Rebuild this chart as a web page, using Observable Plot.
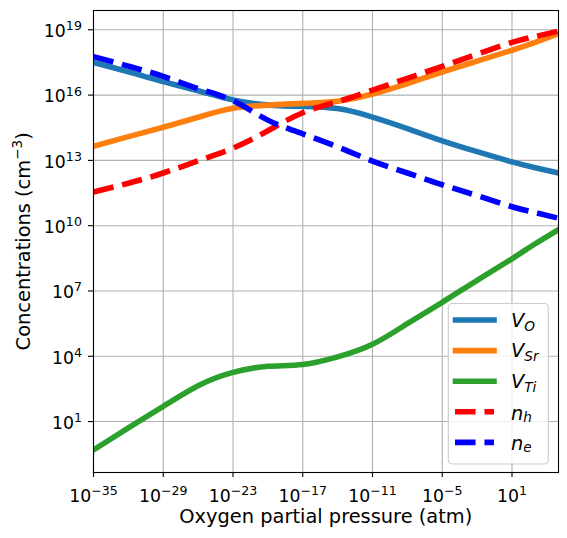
<!DOCTYPE html>
<html>
<head>
<meta charset="utf-8">
<script src="https://cdn.jsdelivr.net/npm/d3@7"></script>
<script src="https://cdn.jsdelivr.net/npm/@observablehq/plot@0.6"></script>
<style>
  html, body { margin: 0; padding: 0; background: #fff; }
  #chart { width: 567px; height: 538px; }
</style>
</head>
<body>
<div id="chart"></div>
<script>
// Oxygen partial pressure (log10 atm) sample positions
const logP   = [-35, -32, -29, -26, -23, -20, -17, -14, -11, -8, -5, -2, 1, 3, 5];
// log10 concentrations (cm^-3)
const logVO  = [17.50, 17.07, 16.62, 16.20, 15.78, 15.55, 15.48, 15.38, 14.99, 14.46, 13.90, 13.40, 12.93, 12.66, 12.42];
const logVSr = [13.65, 14.09, 14.52, 14.98, 15.39, 15.54, 15.62, 15.72, 16.05, 16.53, 17.06, 17.56, 18.06, 18.42, 18.82];
const logVTi = [-0.30, 0.71, 1.70, 2.65, 3.26, 3.54, 3.62, 3.97, 4.55, 5.50, 6.48, 7.49, 8.48, 9.17, 9.82];
const logNh  = [11.55, 11.95, 12.42, 12.98, 13.56, 14.36, 15.19, 15.70, 16.23, 16.77, 17.32, 17.88, 18.42, 18.69, 18.94];
const logNe  = [17.77, 17.33, 16.86, 16.30, 15.74, 14.85, 14.22, 13.62, 12.97, 12.42, 11.88, 11.38, 10.87, 10.60, 10.34];

const seriesKeys   = ["VO", "VSr", "VTi", "nh", "ne"];
const seriesValues = [logVO, logVSr, logVTi, logNh, logNe];
const seriesColors = ["#1f77b4", "#ff7f0e", "#2ca02c", "#ff0000", "#0000ff"];
const seriesDashed = [false, false, false, true, true];
const legendMain   = ["V", "V", "V", "n", "n"];
const legendSub    = ["O", "Sr", "Ti", "h", "e"];

const xTickExp = [-35, -29, -23, -17, -11, -5, 1];
const yTickExp = [1, 4, 7, 10, 13, 16, 19];
const xTicks = xTickExp.map(e => Math.pow(10, e));
const yTicks = yTickExp.map(e => Math.pow(10, e));

const LW = 5.56;
const DASH = "20.56,8.9";

const rows = [];
seriesKeys.forEach((k, i) => {
  logP.forEach((lp, j) => rows.push({series: k, p: Math.pow(10, lp), v: Math.pow(10, seriesValues[i][j])}));
});

const fmt = d => "10^" + String(Math.round(Math.log10(d))).replace("-", "\u2212");

const lineMarks = seriesKeys.map((k, i) => Plot.line(rows.filter(r => r.series === k), {
  x: "p", y: "v",
  stroke: seriesColors[i],
  strokeWidth: LW,
  strokeDasharray: seriesDashed[i] ? DASH : null,
  strokeLinecap: seriesDashed[i] ? "butt" : "square",
  strokeLinejoin: "round",
  curve: "natural",
  clip: true
}));

const chart = Plot.plot({
  width: 567,
  height: 538,
  marginLeft: 93,
  marginRight: 9,
  marginTop: 10,
  marginBottom: 66,
  style: {fontFamily: "DejaVu Sans", fontSize: "17.3px", background: "white", color: "black", overflow: "visible"},
  x: {type: "log", domain: [1e-35, 1e5]},
  y: {type: "log", domain: [Math.pow(10, -1.34), Math.pow(10, 19.886)]},
  marks: [
    Plot.gridX(xTicks, {stroke: "#b0b0b0", strokeOpacity: 1, strokeWidth: 1.1}),
    Plot.gridY(yTicks, {stroke: "#b0b0b0", strokeOpacity: 1, strokeWidth: 1.1}),
    ...lineMarks,
    Plot.frame({stroke: "black", strokeWidth: 1.1}),
    Plot.axisX(xTicks, {tickFormat: fmt, tickSize: 5, tickPadding: 12, strokeWidth: 1.1, label: null}),
    Plot.axisY(yTicks, {tickFormat: fmt, tickSize: 5, tickPadding: 6.6, strokeWidth: 1.1, label: null})
  ]
});

document.getElementById("chart").appendChild(chart);

const svg = d3.select(chart);

function supify(sel) {
  sel.each(function() {
    const t = d3.select(this);
    const s = t.text();
    if (s.indexOf("^") < 0) return;
    const parts = s.split("^");
    t.text(null);
    t.append("tspan").text(parts[0]);
    t.append("tspan").attr("font-size", "12.6px").attr("dy", "-6.8").text(parts[1]);
  });
}
supify(svg.selectAll('g[aria-label="x-axis tick label"] text'));
const yl = svg.selectAll('g[aria-label="y-axis tick label"] text');
yl.attr("y", "0.42em");
supify(yl);

// axis labels
svg.append("text")
  .attr("x", 325.8).attr("y", 523)
  .attr("text-anchor", "middle")
  .attr("font-family", "DejaVu Sans").attr("font-size", "19.4px").attr("fill", "black")
  .text("Oxygen partial pressure (atm)");

const ylab = svg.append("text")
  .attr("transform", "translate(29.5,241.3) rotate(-90)")
  .attr("text-anchor", "middle")
  .attr("font-family", "DejaVu Sans").attr("font-size", "19.4px").attr("fill", "black");
ylab.append("tspan").text("Concentrations (cm");
ylab.append("tspan").attr("font-size", "13.6px").attr("dy", "-8").text("\u22123");
ylab.append("tspan").attr("dy", "8").text(")");

// legend
const lg = svg.append("g");
lg.append("rect")
  .attr("x", 448.3).attr("y", 303.5).attr("width", 100).attr("height", 160.5)
  .attr("rx", 4).attr("ry", 4)
  .attr("fill", "white").attr("fill-opacity", 0.8)
  .attr("stroke", "#cccccc").attr("stroke-width", 1.1);
seriesKeys.forEach((k, i) => {
  const cy = 320 + i * 30.6;
  lg.append("line")
    .attr("x1", seriesDashed[i] ? 455 : 455.5).attr("x2", 494)
    .attr("y1", cy).attr("y2", cy)
    .attr("stroke", seriesColors[i]).attr("stroke-width", LW)
    .attr("stroke-dasharray", seriesDashed[i] ? DASH : null)
    .attr("stroke-linecap", seriesDashed[i] ? "butt" : "square");
  const isV = legendMain[i] === "V";
  const t = lg.append("text")
    .attr("x", 511).attr("y", cy + (isV ? 6.7 : 7.7))
    .attr("text-anchor", "start")
    .attr("font-family", "DejaVu Sans").attr("font-style", "italic")
    .attr("font-size", "19.4px").attr("fill", "black");
  t.append("tspan").text(legendMain[i]);
  t.append("tspan").attr("font-size", "13.6px").attr("dy", isV ? 4 : 2).text(legendSub[i]);
});
</script>
</body>
</html>
